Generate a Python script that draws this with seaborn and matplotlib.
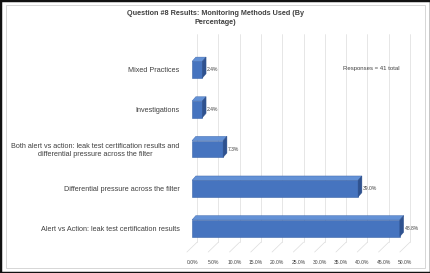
import matplotlib
matplotlib.use("Agg")
import matplotlib.pyplot as plt
import seaborn as sns
import pandas as pd
from matplotlib.patches import Polygon, Rectangle
import matplotlib.transforms as mtransforms

categories = [
    "Mixed Practices",
    "Investigations",
    "Both alert vs action: leak test certification results and\ndifferential pressure across the filter",
    "Differential pressure across the filter",
    "Alert vs Action: leak test certification results",
]
values = [2.4, 2.4, 7.3, 39.0, 48.8]
value_labels = ["2.4%", "2.4%", "7.3%", "39.0%", "48.8%"]
tick_values = [0, 5, 10, 15, 20, 25, 30, 35, 40, 45, 50]
tick_labels = ["0.0%", "5.0%", "10.0%", "15.0%", "20.0%", "25.0%", "30.0%",
               "35.0%", "40.0%", "45.0%", "50.0%"]
title = "Question #8 Results: Monitoring Methods Used (By\nPercentage)"
note = "Responses = 41 total"

sns.set_theme(style="white")
plt.rcParams['font.family'] = ['Liberation Sans', 'DejaVu Sans']

df = pd.DataFrame({"category": categories, "value": values})

fig = plt.figure(figsize=(4.31, 2.73), dpi=100)
ax = fig.add_axes([0.4455, 0.084, 0.494, 0.762])

front = "#4674BF"
top_c = "#6391D6"
side_c = "#2F528F"
sns.barplot(data=df, y="category", x="value", order=categories, orient="h",
            color=front, width=0.42, saturation=1, ax=ax, zorder=3,
            edgecolor="#3A63A8", linewidth=0.4)

ax.set_xlim(0, 50)
ax.set_ylim(4.55, -0.7)
ax.set_xticks(tick_values)
ax.set_xticklabels(tick_labels, fontsize=3.6, color="#404040")
shift = mtransforms.ScaledTranslation(-5 / 100, 0, fig.dpi_scale_trans)
for lab in ax.get_xticklabels():
    lab.set_transform(lab.get_transform() + shift)
ax.tick_params(axis="x", length=0, pad=7)
ax.tick_params(axis="y", length=0, pad=9, labelsize=5.2, labelcolor="#404040")
for lab in ax.get_yticklabels():
    lab.set_horizontalalignment("right")
    lab.set_multialignment("center")
ax.set_xlabel("")
ax.set_ylabel("")
for s in ax.spines.values():
    s.set_visible(False)
for t in tick_values:
    ax.plot([t + 1.2, t + 1.2], [4.35, -0.9], color="#DCDCDC", lw=0.5, zorder=1,
            clip_on=False)
    ax.plot([t - 1.2, t + 1.2], [4.6, 4.35], color="#DCDCDC", lw=0.5, zorder=1,
            clip_on=False)

# 3D-like faces derived from the bars drawn by seaborn
dx, dy = 0.9, -0.11
for p in list(ax.patches):
    x0, y0 = p.get_x(), p.get_y()
    w, h = p.get_width(), p.get_height()
    ytop = min(y0, y0 + h)
    ybot = max(y0, y0 + h)
    ax.add_patch(Polygon([[x0, ytop], [x0 + w, ytop], [x0 + w + dx, ytop + dy],
                          [x0 + dx, ytop + dy]], closed=True, facecolor=top_c,
                         edgecolor="#3A63A8", lw=0.3, zorder=3))
    ax.add_patch(Polygon([[x0 + w, ytop], [x0 + w + dx, ytop + dy],
                          [x0 + w + dx, ybot + dy], [x0 + w, ybot]], closed=True,
                         facecolor=side_c, edgecolor=side_c, lw=0.3, zorder=3))

for i, (v, lab) in enumerate(zip(values, value_labels)):
    ax.text(v + dx + 0.2, i, lab, fontsize=3.6, color="#404040", va="center",
            ha="left", zorder=4, clip_on=False)

ax.text(0.84, 0.875, note, transform=ax.transAxes, fontsize=4.3, color="#404040",
        ha="center", va="center")

fig.text(0.5, 0.962, title, fontsize=5.2, fontweight="bold", color="#404040",
         ha="center", va="top", linespacing=1.3)

fig.patches.append(Rectangle((0.014, 0.018), 0.972, 0.964, transform=fig.transFigure,
                             fill=False, edgecolor="#D0D0D0", lw=0.6, zorder=0))
fig.patches.append(Rectangle((0.0, 0.0), 1.0, 1.0, transform=fig.transFigure,
                             fill=False, edgecolor="#111111", lw=2.5, zorder=0))

fig.savefig("out.png", dpi=100)
